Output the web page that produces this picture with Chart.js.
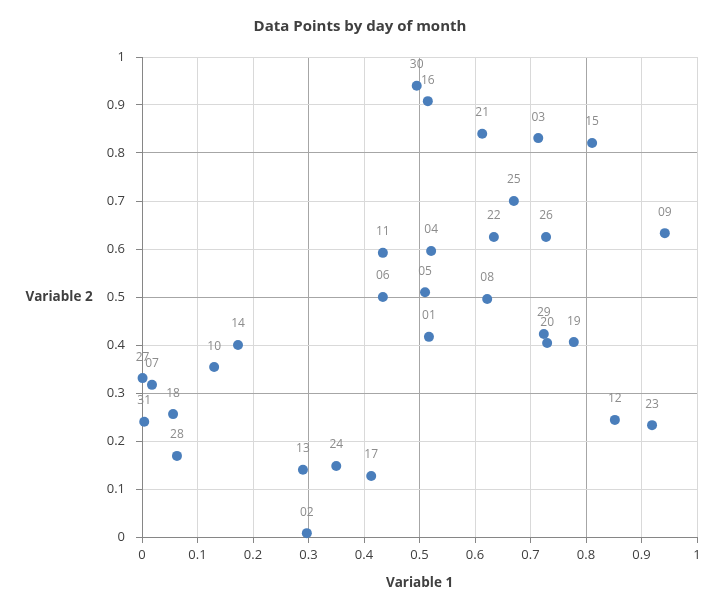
<!DOCTYPE html>
<html>
<head>
<meta charset="utf-8">
<script src="https://cdn.jsdelivr.net/npm/chart.js@4/dist/chart.umd.min.js"></script>
<style>
html,body{margin:0;padding:0;background:#fff;}
#wrap{width:720px;height:614px;}
</style>
</head>
<body>
<div id="wrap"><canvas id="c" width="720" height="614"></canvas></div>
<script>
const dayLabels = ['01','02','03','04','05','06','07','08','09','10','11','12','13','14','15','16','17','18','19','20','21','22','23','24','25','26','27','28','29','30','31'];
const variable1 = [0.517,0.297,0.714,0.521,0.510,0.434,0.018,0.622,0.942,0.130,0.434,0.852,0.290,0.173,0.811,0.515,0.413,0.056,0.778,0.730,0.613,0.634,0.919,0.350,0.670,0.728,0.001,0.063,0.724,0.495,0.004];
const variable2 = [0.417,0.008,0.831,0.596,0.510,0.500,0.317,0.496,0.633,0.354,0.592,0.244,0.140,0.400,0.821,0.908,0.127,0.256,0.406,0.404,0.840,0.625,0.233,0.148,0.700,0.625,0.331,0.169,0.423,0.940,0.240];
const tickLabels = ['0','0.1','0.2','0.3','0.4','0.5','0.6','0.7','0.8','0.9','1'];
const majorLines = [3,5,8];
const chartTitle = 'Data Points by day of month';

const points = variable1.map((x,i)=>({x:x,y:variable2[i]}));
const FONT = '"Open Sans", "Liberation Sans", sans-serif';

function gridColor(ctx){
  const v = Math.round(ctx.tick.value*10);
  if (v === 0) return '#868686';
  if (majorLines.includes(v)) return '#a6a6a6';
  return '#d9d9d9';
}

const labelPlugin = {
  id:'dayLabels',
  afterDatasetsDraw(chart){
    const ctx = chart.ctx;
    const meta = chart.getDatasetMeta(0);
    ctx.save();
    ctx.font = '12px ' + FONT;
    ctx.fillStyle = '#8c8c8c';
    ctx.textAlign = 'center';
    ctx.textBaseline = 'middle';
    meta.data.forEach((el,i)=>{
      ctx.fillText(dayLabels[i], el.x, el.y - 21);
    });
    ctx.restore();
  },
  afterDraw(chart){
    const ctx = chart.ctx;
    const a = chart.chartArea;
    const ys = chart.scales.y;
    ctx.save();
    ctx.textAlign = 'center';
    ctx.textBaseline = 'middle';
    ctx.fillStyle = '#404040';
    ctx.font = 'bold 15px ' + FONT;
    ctx.fillText(chartTitle, 360, 27);
    ctx.font = 'bold 13.5px ' + FONT;
    ctx.fillText('Variable 1', (a.left + a.right)/2, 583);
    ctx.fillText('Variable 2', 59, ys.getPixelForValue(0.5));
    ctx.restore();
  }
};

new Chart(document.getElementById('c'), {
  type:'scatter',
  data:{
    datasets:[{
      label:'Days',
      data:points,
      backgroundColor:'#4a7ebb',
      borderColor:'#4a7ebb',
      borderWidth:0,
      pointRadius:5,
      pointHoverRadius:5,
      clip:false
    }]
  },
  options:{
    responsive:false,
    animation:false,
    devicePixelRatio:1,
    layout:{padding:{left:0,right:23,top:57,bottom:0}},
    plugins:{
      legend:{display:false},
      tooltip:{enabled:false},
      title:{display:false}
    },
    scales:{
      x:{
        type:'linear',
        min:0,max:1,
        afterFit(scale){ scale.height = 77; },
        ticks:{
          stepSize:0.1,
          color:'#404040',
          font:{family:FONT,size:13},
          padding:4,
          maxRotation:0,
          callback:(v,i)=>tickLabels[i]
        },
        grid:{color:gridColor,tickColor:'#868686',tickLength:6,lineWidth:1},
        border:{color:'#868686',width:1}
      },
      y:{
        type:'linear',
        min:0,max:1,
        afterFit(scale){ scale.width = 142; },
        ticks:{
          stepSize:0.1,
          color:'#404040',
          font:{family:FONT,size:13},
          padding:11,
          callback:(v,i)=>tickLabels[i]
        },
        grid:{color:gridColor,tickColor:'#868686',tickLength:6,lineWidth:1},
        border:{color:'#868686',width:1}
      }
    }
  },
  plugins:[labelPlugin]
});
</script>
</body>
</html>
